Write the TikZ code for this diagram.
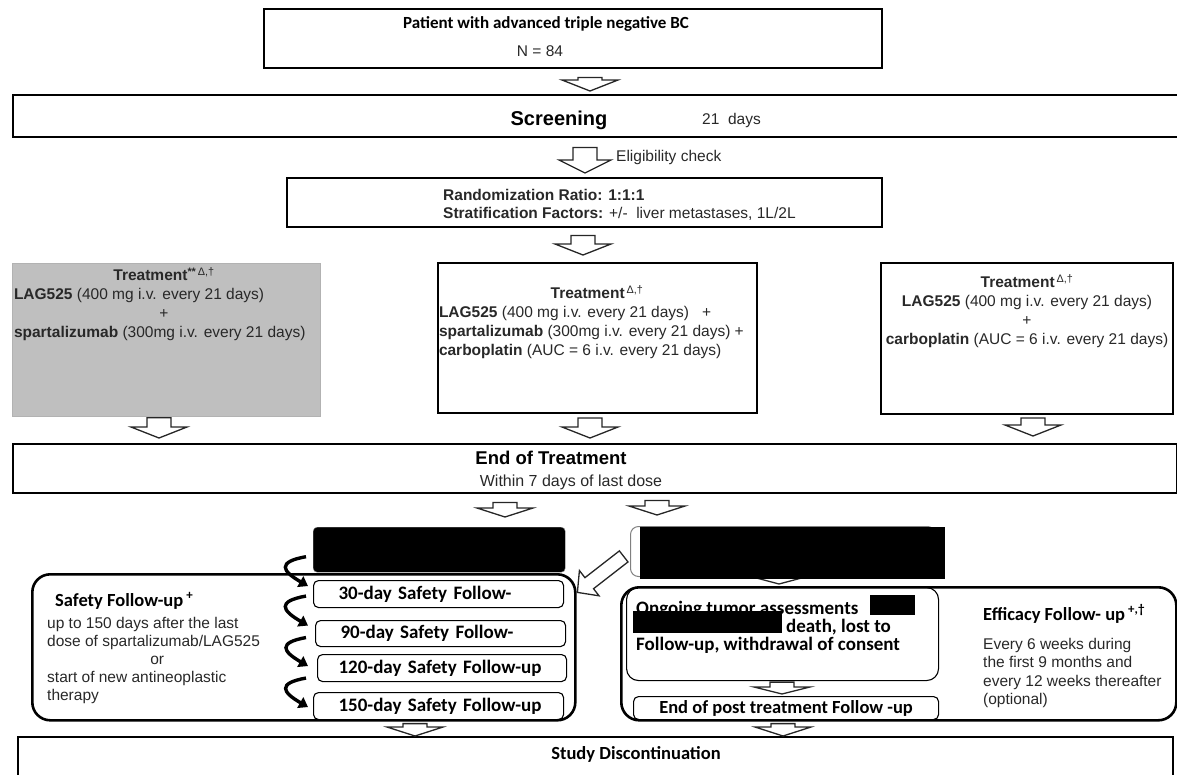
\documentclass[tikz,border=0pt]{standalone}
\usepackage{fontspec}
\setmainfont{Liberation Sans}
\newfontfamily\calfont{Carlito}
\usetikzlibrary{arrows.meta,positioning,calc}
\definecolor{armgray}{RGB}{191,191,191}
\definecolor{inkgray}{RGB}{40,40,40}
\newcommand{\lrow}[2]{\makebox[#1][l]{#2}}

\tikzset{
    fa shaft/.store in=\fashaft, fa head/.store in=\fahead, fa len/.store in=\falen,
    fa gapa/.store in=\fagapa, fa gapb/.store in=\fagapb,
    fa gaps/.style 2 args={fa gapa=#1, fa gapb=#2},
    fa shaft=12pt, fa head=28pt, fa len=11pt, fa gapa=3pt, fa gapb=3pt,
    fatarrow/.style={draw=black!85, line width=1.3pt, fill=white, line join=miter,
        to path={let \p1=($(\tikztostart)!\fagapa!(\tikztotarget)$),
                     \p2=($(\tikztotarget)!\fagapb!(\tikztostart)$),
                     \n1={atan2(\y2-\y1,\x2-\x1)} in
            ($(\p1)+(\n1+90:\fashaft)$) -- ($(\p2)+(\n1+180:\falen)+(\n1+90:\fashaft)$)
            -- ($(\p2)+(\n1+180:\falen)+(\n1+90:\fahead)$) -- (\p2)
            -- ($(\p2)+(\n1+180:\falen)+(\n1-90:\fahead)$)
            -- ($(\p2)+(\n1+180:\falen)+(\n1-90:\fashaft)$)
            -- ($(\p1)+(\n1-90:\fashaft)$) -- cycle}}
}

\begin{document}
\begin{tikzpicture}[x=1pt, y=-1pt,
    mainbox/.style={draw, line width=2.4pt, anchor=north west, inner sep=0pt},
    trtbox/.style={draw, line width=2pt, anchor=north west, inner sep=0pt},
    outerbox/.style={draw, line width=2.6pt, rounded corners=18pt, anchor=north west, inner sep=0pt},
    subbox/.style={draw, line width=1.1pt, rounded corners=5pt, anchor=north west, inner xsep=25pt, inner ysep=0pt, text width=200pt, align=left, minimum height=27pt, font=\calfont\bfseries\fontsize{19}{20}\selectfont},
    redact/.style={fill=black, anchor=north west, inner sep=0pt},
    txt/.style={inner sep=0pt, text=inkgray, font=\fontsize{15.5}{19}\selectfont},
    headb/.style={inner sep=0pt, font=\bfseries\fontsize{18.5}{20}\selectfont},
    calb/.style={inner sep=0pt, font=\calfont\bfseries\fontsize{18.5}{18}\selectfont},
    curvarr/.style={line width=3.4pt, -{Triangle[length=9pt,width=12pt]}}
]
    \useasboundingbox (0,0) rectangle (1177,774);

    % Enrollment and screening
    \node[mainbox, minimum width=618pt, minimum height=59pt] (patient) at (263,8) {};
    \node[calb, font=\calfont\bfseries\fontsize{17}{18}\selectfont, anchor=base] (patientlbl) at (546,28.5) {Patient with advanced triple negative BC};
    \node[txt, anchor=base] (patientn) at (540,56) {N = 84};

    \node[mainbox, minimum width=1180pt, minimum height=42pt] (screen) at (12,94) {};
    \node[headb, font=\bfseries\fontsize{20}{22}\selectfont, anchor=base] (screenlbl) at (559,125) {Screening};
    \node[txt, anchor=base west] (screendays) at (702,124) {21\ \ days};
    \draw[fatarrow, fa gaps={8pt}{3pt}] (patient.south -| 590,0) to (screen.north -| 590,0);

    % Randomization
    \node[mainbox, minimum width=595pt, minimum height=49pt] (rand) at (286,177) {};
    \node[txt, anchor=north west, align=left, font=\fontsize{15.5}{18}\selectfont] (randlbl) at (443,189)
        {\textbf{Randomization Ratio: 1:1:1}\\\textbf{Stratification Factors:} +/-\ \ liver metastases, 1L/2L};
    \draw[fatarrow, fa head=26pt, fa len=13pt, fa gaps={9pt}{4pt}] (screen.south -| 585,0) to (rand.north -| 585,0);
    \node[txt, anchor=base west] (elig) at (616,161.5) {Eligibility check};

    % Treatment arms
    \node[trtbox, draw=gray!60, line width=0.8pt, fill=armgray, minimum width=308pt, minimum height=153pt] (arml) at (12,263) {};
    \node[txt, anchor=north, align=center] (armltxt) at (164,267)
        {\textbf{Treatment}\textsuperscript{\textbf{**}\,Δ,†}\\
         \lrow{300pt}{\textbf{LAG525} (400 mg i.v. every 21 days)}\\
         +\\
         \lrow{300pt}{\textbf{spartalizumab} (300mg i.v. every 21 days)}};

    \node[trtbox, minimum width=319pt, minimum height=150pt] (armm) at (437,262) {};
    \node[txt, anchor=north, align=center] (armmtxt) at (597,285)
        {\textbf{Treatment}\textsuperscript{\,Δ,†}\\
         \lrow{316pt}{\textbf{LAG525} (400 mg i.v. every 21 days)\ \ \ +}\\
         \lrow{316pt}{\textbf{spartalizumab} (300mg i.v. every 21 days) +}\\
         \lrow{316pt}{\textbf{carboplatin} (AUC = 6 i.v. every 21 days)}};

    \node[trtbox, minimum width=292pt, minimum height=151pt] (armr) at (880,262) {};
    \node[txt, anchor=north, align=center] (armrtxt) at (1027,274)
        {\textbf{Treatment}\textsuperscript{\,Δ,†}\\
         \textbf{LAG525} (400 mg i.v. every 21 days)\\
         +\\
         \textbf{carboplatin} (AUC = 6 i.v. every 21 days)};

    \draw[fatarrow, fa gaps={7pt}{7pt}] (rand.south -| 583,0) to (armm.north -| 583,0);

    % End of treatment
    \node[mainbox, minimum width=1164pt, minimum height=49pt] (eot) at (12,443) {};
    \node[headb, anchor=base] (eotlbl) at (551,464.5) {End of Treatment};
    \node[txt, font=\fontsize{16}{19}\selectfont, anchor=base] (eotdays) at (571,486) {Within 7 days of last dose};
    \draw[fatarrow, fa gaps={1pt}{5pt}] (arml.south -| 159,0) to (eot.north -| 159,0);
    \draw[fatarrow, fa gaps={4pt}{5pt}] (armm.south -| 590,0) to (eot.north -| 590,0);
    \draw[fatarrow, fa gaps={3pt}{7pt}] (armr.south -| 1033,0) to (eot.north -| 1033,0);

    % Efficacy follow-up
    \node[outerbox, minimum width=555pt, minimum height=133pt] (effy) at (620,586) {};
    \node[draw, line width=1.1pt, rounded corners=12pt, anchor=north west, inner sep=0pt, minimum width=312pt, minimum height=93pt] (ongo) at (626,587) {};
    \node[calb, font=\calfont\bfseries\fontsize{19}{18}\selectfont, anchor=north west, align=left] (ongotxt) at (636,601)
        {Ongoing tumor assessments\\\hspace*{150pt}death, lost to\\Follow-up, withdrawal of consent};
    \node[redact, minimum width=45pt, minimum height=20pt] (redo1) at (870,595) {};
    \node[redact, minimum width=149pt, minimum height=22pt] (redo2) at (633,611) {};
    \node[draw, line width=1.1pt, rounded corners=5pt, anchor=north west, inner sep=0pt, minimum width=305pt, minimum height=23pt,
          font=\calfont\bfseries\fontsize{18.5}{20}\selectfont] (endp) at (633,696) {End of post treatment Follow -up};
    \draw[fatarrow, fa len=7pt, fa gaps={1pt}{2pt}] (ongo.south -| 782,0) to (endp.north -| 782,0);
    \node[calb, anchor=base west] (effylbl) at (983,620) {Efficacy Follow- up\,\textsuperscript{+,†}};
    \node[txt, anchor=north west, align=left, font=\fontsize{15.5}{18.5}\selectfont] (effytxt) at (983,638)
        {Every 6 weeks during\\the first 9 months and\\every 12 weeks thereafter\\(optional)};

    % Redacted boxes
    \node[redact, draw=gray, rounded corners=4pt, minimum width=252pt, minimum height=45pt] (redl) at (313,527) {};
    \node[draw=gray, line width=1pt, rounded corners=8pt, anchor=north west, inner sep=0pt, minimum width=305pt, minimum height=50pt] (redr) at (630,526) {};
    \draw[fatarrow, fa head=30pt, fa len=8pt, fa gaps={0pt}{2pt}] (redr.center -| 779,0) to (effy.north -| 779,0);
    \node[redact, minimum width=305pt, minimum height=52pt] (redrk) at (640,527) {};
    \draw[fatarrow, fa gaps={8pt}{10pt}, fa len=9pt] (eot.south -| 505,0) to (redl.north -| 505,0);
    \draw[fatarrow, fa gaps={6pt}{11pt}, fa len=9pt] (eot.south -| 657,0) to (redr.north -| 657,0);

    % Safety follow-up
    \node[outerbox, minimum width=543pt, minimum height=146pt] (safe) at (31,573) {};
    \node[calb, anchor=base west] (safelbl) at (55,606) {Safety Follow-up\,\textsuperscript{+}};
    \node[txt, anchor=north west, align=left, font=\fontsize{15.5}{18}\selectfont] (safetxt) at (47,617)
        {up to 150 days after the last\\dose of spartalizumab/LAG525\\\makebox[220pt]{or}\\start of new antineoplastic\\therapy};
    \node[subbox] (d30) at (313,580) {\mbox{30-day Safety Follow-}};
    \node[subbox, minimum height=26pt] (d90) at (315,620) {\mbox{90-day Safety Follow-}};
    \node[subbox, inner xsep=21pt, text width=207pt] (d120) at (317,654) {\mbox{120-day Safety Follow-up}};
    \node[subbox] (d150) at (313,692) {\mbox{150-day Safety Follow-up}};
    \draw[curvarr] ([xshift=-7pt,yshift=-7pt]redl.west) to[out=190, in=150, looseness=2.6] ([xshift=-5pt,yshift=8pt]d30.west);
    \draw[curvarr] ([xshift=-7pt,yshift=-2pt]d30.west) to[out=190, in=150, looseness=2.6] ([xshift=-7pt,yshift=8pt]d90.west);
    \draw[curvarr] ([xshift=-9pt,yshift=-4pt]d90.west) to[out=190, in=150, looseness=2.6] ([xshift=-9pt,yshift=2pt]d120.west);
    \draw[curvarr] ([xshift=-11pt,yshift=-10pt]d120.west) to[out=190, in=150, looseness=2.6] ([xshift=-5pt,yshift=-1pt]d150.west);
    \draw[fatarrow, fa shaft=7pt, fa head=16pt, fa len=15pt, fa gaps={8pt}{1pt}] (redr.west) to ([yshift=-20pt]safe.north east);

    % Study discontinuation
    \node[mainbox, line width=2pt, minimum width=1155pt, minimum height=60pt] (study) at (17,736) {};
    \node[calb, anchor=base] (studylbl) at (636,759) {Study Discontinuation};
    \draw[fatarrow, fa len=9pt, fa gaps={2pt}{0pt}] (safe.south -| 415,0) to (study.north -| 415,0);
    \draw[fatarrow, fa len=9pt, fa gaps={2pt}{0pt}] (effy.south -| 783,0) to (study.north -| 783,0);
\end{tikzpicture}
\end{document}
